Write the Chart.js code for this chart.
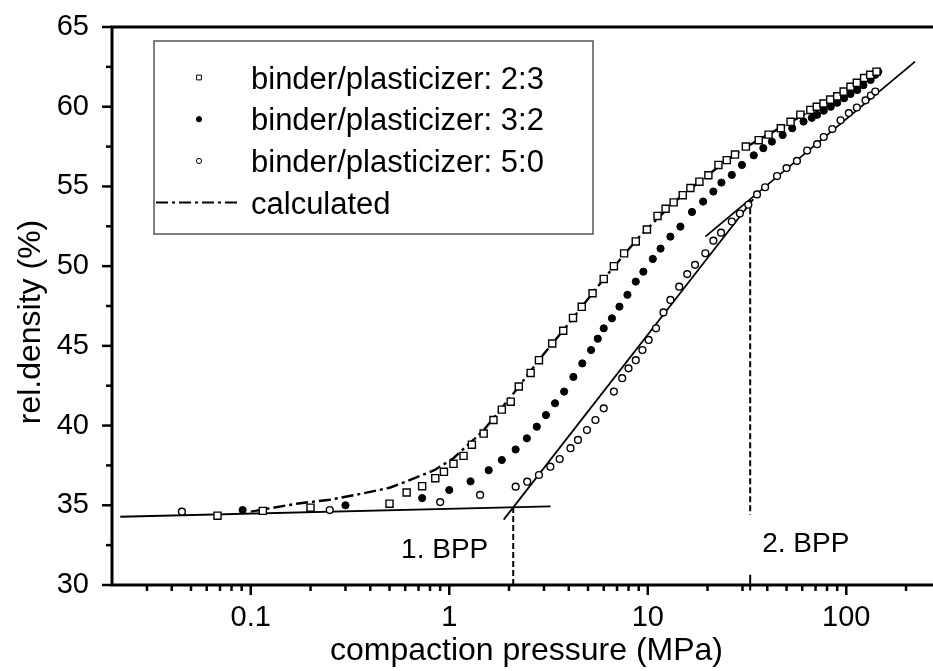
<!DOCTYPE html>
<html>
<head>
<meta charset="utf-8">
<title>rel. density vs. compaction pressure</title>
<script src="https://cdn.jsdelivr.net/npm/chart.js@4.4.1/dist/chart.umd.min.js"></script>
<style>
    html, body { margin: 0; padding: 0; background: #fff; overflow: hidden; }
    #density-chart { display: block; }
</style>
</head>
<body>
<canvas id="density-chart" width="945" height="671"></canvas>
<script>
// values: pressure in MPa, rel. density in %
var pressure23 = [0.068, 0.115, 0.2, 0.5, 0.61, 0.73, 0.85, 0.94, 1.05, 1.18, 1.3, 1.49, 1.67, 1.84, 2.04, 2.24, 2.57, 2.83, 3.3, 3.75, 4.2, 4.65, 5.27, 6.0, 6.75, 7.6, 8.7, 9.9, 11.2, 12.3, 13.5, 15.0, 16.4, 18.2, 20.2, 22.7, 25.0, 27.5, 31.2, 36.2, 40.6, 46.8, 52.4, 58.7, 65.9, 71.0, 76.8, 83.0, 90.0, 97.0, 105, 113, 123, 132, 142];
var density23 = [34.35, 34.65, 34.85, 35.1, 35.8, 36.2, 36.7, 37.1, 37.6, 38.1, 38.8, 39.5, 40.35, 41.0, 41.5, 42.45, 43.3, 44.1, 45.15, 45.95, 46.75, 47.45, 48.3, 49.2, 50.0, 50.8, 51.55, 52.3, 53.15, 53.6, 54.0, 54.45, 54.9, 55.3, 55.7, 56.35, 56.65, 57.0, 57.5, 57.9, 58.25, 58.65, 59.05, 59.5, 59.8, 60.0, 60.2, 60.45, 60.65, 60.95, 61.25, 61.5, 61.8, 62.0, 62.2];

var pressure32 = [0.091, 0.3, 0.73, 1.0, 1.28, 1.58, 1.84, 2.16, 2.46, 2.76, 3.07, 3.41, 3.79, 4.22, 4.68, 5.18, 5.6, 6.0, 6.6, 7.2, 7.9, 8.7, 9.5, 10.6, 11.6, 13.0, 14.6, 16.7, 19.0, 21.4, 23.5, 26.5, 29.8, 34.2, 38.2, 42.2, 47.8, 53.4, 60.9, 67.0, 71.3, 77.0, 83.5, 90.0, 97.5, 105, 113.6, 122, 132.6, 140, 145];
var density32 = [34.7, 35.0, 35.45, 35.96, 36.5, 37.2, 37.84, 38.5, 39.2, 39.93, 40.66, 41.4, 42.13, 43.05, 43.9, 44.74, 45.45, 46.1, 46.73, 47.46, 48.2, 49.03, 49.65, 50.45, 51.1, 51.85, 52.48, 53.4, 54.05, 54.68, 55.24, 55.72, 56.35, 56.95, 57.4, 57.81, 58.23, 58.65, 59.07, 59.3, 59.49, 59.75, 60.0, 60.25, 60.53, 60.8, 61.05, 61.35, 61.68, 62.0, 62.2];

var pressure50 = [0.045, 0.25, 0.9, 1.43, 2.16, 2.47, 2.83, 3.23, 3.6, 4.08, 4.45, 4.94, 5.45, 6.0, 6.75, 7.43, 8.0, 8.7, 9.4, 10.1, 11.0, 12.0, 13.0, 14.4, 15.8, 17.3, 19.5, 21.4, 23.4, 26.5, 29.1, 32.1, 35.5, 39.0, 44.8, 50.0, 56.4, 63.5, 71.3, 77.0, 85.0, 93.6, 103, 113, 125, 133, 140];
var density50 = [34.6, 34.7, 35.2, 35.65, 36.17, 36.48, 36.9, 37.42, 37.9, 38.58, 39.1, 39.72, 40.35, 41.08, 42.13, 42.97, 43.59, 44.1, 44.74, 45.37, 46.1, 47.1, 47.88, 48.71, 49.5, 50.08, 50.81, 51.6, 52.1, 52.8, 53.3, 53.85, 54.5, 54.95, 55.65, 56.15, 56.6, 57.25, 57.65, 58.1, 58.6, 59.15, 59.6, 59.95, 60.4, 60.7, 60.95];

var pressureCalc = [0.1, 0.17, 0.25, 0.37, 0.5, 0.61, 0.84, 1.05, 1.49, 2.1, 3.0, 4.0, 6.0, 9.0, 13.5, 20, 30, 50, 80, 140];
var densityCalc = [34.6, 35.1, 35.35, 35.75, 36.1, 36.5, 37.2, 37.95, 39.7, 42.0, 44.5, 46.4, 49.2, 51.8, 54.0, 55.7, 57.35, 58.9, 60.3, 62.2];

// straight fit lines and break point markers
var lowFitX = [0.022, 3.24];
var lowFitY = [34.28, 34.93];
var steepFitX = [1.88, 34];
var steepFitY = [34.1, 54.2];
var upperFitX = [19.5, 222];
var upperFitY = [51.85, 62.83];
var bpp1X = [2.1, 2.1];
var bpp1Y = [34.9, 30];
var bpp2X = [32.8, 32.8];
var bpp2Y = [54.2, 34.4];
var bpp2MarkY = [30.65, 29.65];

// axes
var xMin = 0.02;
var xMax = 300;
var xTickValues = [0.1, 1, 10, 100];
var yMin = 30;
var yMax = 65;
var yStep = 5;

(function() {
    'use strict';

    var FONT = '"Liberation Sans", Arial, Helvetica, sans-serif';

    function pairs(xs, ys) {
        return xs.map(function(x, i) {
            return { x: x, y: ys[i] };
        });
    }

    function drawMarker(ctx, style, x, y, r, filled) {
        ctx.beginPath();
        if (style === 'rect') {
            ctx.rect(x - r, y - r, 2 * r, 2 * r);
        } else {
            ctx.arc(x, y, r, 0, Math.PI * 2);
        }
        ctx.fillStyle = filled ? '#000' : '#fff';
        ctx.fill();
        ctx.lineWidth = 1;
        ctx.strokeStyle = '#000';
        ctx.stroke();
    }

    // frame, tick marks, legend box and text annotations
    var decorations = {
        id: 'decorations',
        afterDraw: function(chart) {
            var ctx = chart.ctx;
            var area = chart.chartArea;
            var xs = chart.scales.x;
            var ys = chart.scales.y;

            ctx.save();
            ctx.strokeStyle = '#000';
            ctx.lineCap = 'butt';

            // tick marks, pointing outward
            ctx.lineWidth = 2.5;
            for (var d = -2; d <= 2; d++) {
                for (var k = 1; k <= 9; k++) {
                    var v = k * Math.pow(10, d);
                    if (v < xMin * 1.001 || v > xMax) continue;
                    var px = xs.getPixelForValue(v);
                    var len = k === 1 ? 10 : 6;
                    ctx.beginPath();
                    ctx.moveTo(px, area.bottom);
                    ctx.lineTo(px, area.bottom + len);
                    ctx.stroke();
                }
            }
            for (var t = yMin; t <= yMax; t += yStep / 2) {
                var py = ys.getPixelForValue(t);
                var l = (t % yStep === 0) ? 10 : 6;
                ctx.beginPath();
                ctx.moveTo(area.left, py);
                ctx.lineTo(area.left - l, py);
                ctx.stroke();
            }

            // frame: left, bottom, top (right side is off the page)
            ctx.lineWidth = 3;
            ctx.beginPath();
            ctx.moveTo(chart.width, area.top);
            ctx.lineTo(area.left, area.top);
            ctx.lineTo(area.left, area.bottom);
            ctx.lineTo(chart.width, area.bottom);
            ctx.stroke();

            // legend
            var lx = area.left + 42;
            var ly = area.top + 14;
            ctx.lineWidth = 1.5;
            ctx.strokeStyle = '#555';
            ctx.strokeRect(lx, ly, 439, 193);

            ctx.font = '31px ' + FONT;
            ctx.textAlign = 'left';
            ctx.textBaseline = 'alphabetic';
            var rows = chart.data.datasets.filter(function(ds) { return ds.inLegend; });
            rows.forEach(function(ds, i) {
                var base = ly + 47.5 + i * 41.7;
                var my = base - 11;
                if (ds.showLine) {
                    ctx.save();
                    ctx.strokeStyle = '#000';
                    ctx.lineWidth = 2;
                    ctx.setLineDash(ds.borderDash || []);
                    ctx.beginPath();
                    ctx.moveTo(lx + 2, my);
                    ctx.lineTo(lx + 84, my);
                    ctx.stroke();
                    ctx.restore();
                } else {
                    drawMarker(ctx, ds.pointStyle, lx + 45, my, ds.pointStyle === 'rect' ? 2.4 : 2.6,
                        ds.pointBackgroundColor === '#000');
                }
                ctx.fillStyle = '#000';
                ctx.fillText(ds.label, lx + 97, base);
            });

            // break point labels
            ctx.font = '28px ' + FONT;
            ctx.fillStyle = '#000';
            ctx.textAlign = 'right';
            ctx.fillText('1. BPP', xs.getPixelForValue(bpp1X[0]) - 25, area.bottom - 27);
            ctx.textAlign = 'left';
            ctx.fillText('2. BPP', xs.getPixelForValue(bpp2X[0]) + 12, area.bottom - 33);

            // y axis title
            ctx.font = '32px ' + FONT;
            ctx.textAlign = 'center';
            ctx.textBaseline = 'middle';
            ctx.translate(31, 322);
            ctx.rotate(-Math.PI / 2);
            ctx.fillText('rel.density (%)', 0, 0);
            ctx.restore();
        }
    };

    function lineSet(xs, ys, width, dash, extra) {
        var ds = {
            data: pairs(xs, ys),
            showLine: true,
            borderColor: '#000',
            borderWidth: width,
            borderDash: dash,
            pointRadius: 0,
            fill: false
        };
        return Object.assign(ds, extra || {});
    }

    var ctx = document.getElementById('density-chart').getContext('2d');
    var chart = new Chart(ctx, {
        type: 'scatter',
        data: {
            datasets: [{
                label: 'binder/plasticizer: 2:3',
                data: pairs(pressure23, density23),
                pointStyle: 'rect',
                pointRadius: 5,
                pointBorderWidth: 1.4,
                pointBorderColor: '#000',
                pointBackgroundColor: '#fff',
                inLegend: true
            }, {
                label: 'binder/plasticizer: 3:2',
                data: pairs(pressure32, density32),
                pointStyle: 'circle',
                pointRadius: 3.6,
                pointBorderWidth: 1,
                pointBorderColor: '#000',
                pointBackgroundColor: '#000',
                inLegend: true
            }, {
                label: 'binder/plasticizer: 5:0',
                data: pairs(pressure50, density50),
                pointStyle: 'circle',
                pointRadius: 3.4,
                pointBorderWidth: 1.4,
                pointBorderColor: '#000',
                pointBackgroundColor: '#fff',
                inLegend: true
            },
            lineSet(pressureCalc, densityCalc, 2.4, [12, 4, 3, 4], { label: 'calculated', inLegend: true }),
            lineSet(lowFitX, lowFitY, 1.8, []),
            lineSet(steepFitX, steepFitY, 1.8, []),
            lineSet(upperFitX, upperFitY, 1.8, []),
            lineSet(bpp1X, bpp1Y, 2, [6, 3]),
            lineSet(bpp2X, bpp2Y, 2, [6, 3]),
            lineSet([bpp2X[0], bpp2X[0]], bpp2MarkY, 2, [], { clip: false })
            ]
        },
        options: {
            responsive: false,
            devicePixelRatio: 1,
            animation: false,
            layout: {
                autoPadding: false,
                padding: { top: 27, right: 4, left: 0, bottom: 0 }
            },
            plugins: {
                legend: { display: false },
                tooltip: { enabled: false }
            },
            scales: {
                x: {
                    type: 'logarithmic',
                    min: xMin,
                    max: xMax,
                    grid: { display: false },
                    border: { display: false },
                    afterBuildTicks: function(scale) {
                        scale.ticks = xTickValues.map(function(v) { return { value: v }; });
                    },
                    ticks: {
                        color: '#000',
                        font: { family: FONT, size: 29 },
                        padding: 8,
                        maxRotation: 0,
                        autoSkip: false,
                        callback: function(value) {
                            return String(value);
                        }
                    },
                    title: {
                        display: true,
                        text: 'compaction pressure (MPa)',
                        color: '#000',
                        font: { family: FONT, size: 32 },
                        padding: { top: 0, bottom: 1 }
                    },
                    afterFit: function(scale) {
                        scale.height = 86;
                        scale.paddingLeft = 0;
                        scale.paddingRight = 0;
                    }
                },
                y: {
                    min: yMin,
                    max: yMax,
                    grid: { display: false },
                    border: { display: false },
                    ticks: {
                        stepSize: yStep,
                        color: '#000',
                        font: { family: FONT, size: 29 },
                        padding: 15
                    },
                    afterFit: function(scale) {
                        scale.width = 112;
                        scale.paddingTop = 0;
                        scale.paddingBottom = 0;
                    }
                }
            }
        },
        plugins: [decorations]
    });
})();
</script>
</body>
</html>
